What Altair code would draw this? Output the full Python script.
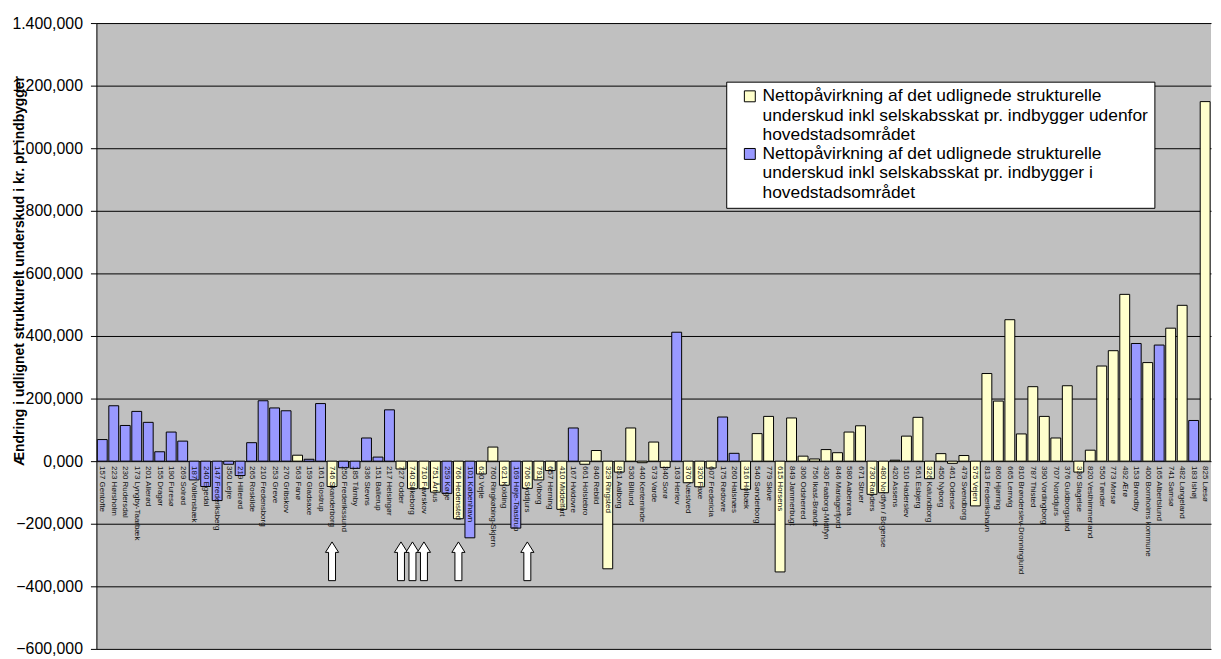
import altair as alt
import pandas as pd

FONT = "Liberation Sans, Arial, sans-serif"

# kommune, nettopåvirkning i kr. pr. indbygger, område (H = hovedstadsområdet, U = udenfor)
kommuner = [
    "157 Gentofte", "223 Hørsholm", "230 Rudersdal", "173 Lyngby-Taarbæk", "201 Allerød",
    "155 Dragør", "190 Furesø", "269 Solrød", "187 Vallensbæk", "240 Egedal",
    "147 Frederiksberg", "350 Lejre", "219 Hillerød", "265 Roskilde", "210 Fredensborg",
    "253 Greve", "270 Gribskov", "563 Fanø", "159 Gladsaxe", "161 Glostrup",
    "746 Skanderborg", "250 Frederikssund", "185 Tårnby", "336 Stevns", "151 Ballerup",
    "217 Helsingør", "727 Odder", "740 Silkeborg", "710 Favrskov", "751 Århus",
    "259 Køge", "766 Hedensted", "101 København", "630 Vejle", "760 Ringkøbing-Skjern",
    "621 Kolding", "169 Høje-Taastrup", "706 Syddjurs", "791 Viborg", "657 Herning",
    "410 Middelfart", "167 Hvidovre", "661 Holstebro", "840 Rebild", "329 Ringsted",
    "851 Aalborg", "530 Billund", "440 Kerteminde", "573 Varde", "340 Sorø",
    "163 Herlev", "370 Næstved", "320 Faxe", "607 Fredericia", "175 Rødovre",
    "260 Halsnæs", "316 Holbæk", "540 Sønderborg", "779 Skive", "615 Horsens",
    "849 Jammerbugt", "306 Odsherred", "756 Ikast-Brande", "430 Faaborg-Midtfyn", "846 Mariagerfjord",
    "580 Aabenraa", "671 Struer", "730 Randers", "480 Nordfyn / Bogense", "420 Assens",
    "510 Haderslev", "561 Esbjerg", "326 Kalundborg", "450 Nyborg", "461 Odense",
    "479 Svendborg", "575 Vejen", "813 Frederikshavn", "860 Hjørring", "665 Lemvig",
    "810 Brønderslev-Dronninglund", "787 Thisted", "390 Vordingborg", "707 Norddjurs", "376 Guldborgsund",
    "330 Slagelse", "820 Vesthimmerland", "550 Tønder", "773 Morsø", "492 Ærø",
    "153 Brøndby", "400 Bornholms kommune", "165 Albertslund", "741 Samsø", "482 Langeland",
    "183 Ishøj", "825 Læsø",
]

vaerdier = [
    69, 177, 114, 159, 124,
    30, 93, 64, -60, -81,
    -126, -10, -46, 59, 193,
    170, 161, 19, 6, 184,
    -81, -21, -23, 74, 13,
    164, -25, -88, -88, -99,
    -103, -184, -245, -41, 45,
    -77, -214, -87, -60, -30,
    -154, 106, -10, 34, -344,
    -35, 106, -5, 61, -20,
    412, -69, -82, -22, 141,
    25, -90, 88, 143, -354,
    138, 16, 7, 37, 27,
    93, 113, -106, -101, 3,
    80, 140, -56, 24, -7,
    18, -143, 280, 192, 452,
    87, 238, 143, 74, 241,
    -35, 35, 304, 353, 533,
    376, 315, 371, 425, 498,
    130, 1149,
]

omraade = [
    "H", "H", "H", "H", "H",
    "H", "H", "H", "H", "H",
    "H", "H", "H", "H", "H",
    "H", "H", "U", "H", "H",
    "U", "H", "H", "H", "H",
    "H", "U", "U", "U", "U",
    "H", "U", "H", "U", "U",
    "U", "H", "U", "U", "U",
    "U", "H", "U", "U", "U",
    "U", "U", "U", "U", "U",
    "H", "U", "U", "U", "H",
    "H", "U", "U", "U", "U",
    "U", "U", "U", "U", "U",
    "U", "U", "U", "U", "U",
    "U", "U", "U", "U", "U",
    "U", "U", "U", "U", "U",
    "U", "U", "U", "U", "U",
    "U", "U", "U", "U", "U",
    "H", "U", "H", "U", "U",
    "H", "U",
]

# kommuner markeret med pil under søjlen
pile = ["746 Skanderborg", "727 Odder", "740 Silkeborg", "710 Favrskov", "766 Hedensted", "706 Syddjurs"]

udenfor = ("Nettopåvirkning af det udlignede strukturelle|"
           "underskud inkl selskabsskat pr. indbygger udenfor|hovedstadsområdet")
inden = ("Nettopåvirkning af det udlignede strukturelle|"
         "underskud inkl selskabsskat pr. indbygger i|hovedstadsområdet")

df = pd.DataFrame({
    "kommune": kommuner,
    "vaerdi": vaerdier,
    "omraade": [udenfor if o == "U" else inden for o in omraade],
})
pil_df = pd.DataFrame({"kommune": pile})

# dansk talformat: 1.400,000
dk_format = ("replace(replace(replace(format(datum.value, ',.3f'), ',', '#'), '.', ','), '#', '.')")

PIL = "M -0.18 1 L -0.18 -0.46 L -0.34 -0.46 L 0 -1 L 0.34 -0.46 L 0.18 -0.46 L 0.18 1 Z"

x_enc = alt.X("kommune:N", sort=kommuner, axis=None,
              scale=alt.Scale(paddingInner=0.14, paddingOuter=0.08))

bars = alt.Chart(df).mark_bar(stroke="black", strokeWidth=1).encode(
    x=x_enc,
    y=alt.Y("vaerdi:Q",
            scale=alt.Scale(domain=[-600, 1400], nice=False),
            axis=alt.Axis(
                values=list(range(-600, 1401, 200)),
                labelExpr=dk_format,
                labelFont=FONT, labelFontSize=16, labelColor="black", labelPadding=8,
                title="Ændring i udlignet strukturelt underskud i kr. pr. indbygger",
                titleFont=FONT, titleFontSize=14, titleFontWeight="bold", titleColor="black",
                titleAngle=-90, titleX=-77, titleY=249, titleBaseline="middle", titleAlign="center",
                grid=True, gridColor="black", gridOpacity=1, gridWidth=1,
                domainColor="black", tickColor="black", tickSize=6,
            )),
    color=alt.Color("omraade:N",
                    scale=alt.Scale(domain=[udenfor, inden], range=["#FFFFCC", "#9999FF"]),
                    legend=alt.Legend(
                        title=None, orient="none", legendX=634, legendY=59, direction="vertical",
                        fillColor="white", strokeColor="black", padding=6, symbolOffset=9,
                        symbolType="square", symbolSize=121, symbolStrokeColor="black",
                        symbolStrokeWidth=1, labelFont=FONT, labelFontSize=17.5, labelColor="black",
                        labelLimit=700, labelBaseline="middle", labelOffset=4,
                        rowPadding=0, labelExpr="split(datum.label, '|')",
                    )),
)

navne = alt.Chart(df).mark_text(
    angle=90, align="left", baseline="middle", fontSize=8, font=FONT, dx=5, color="#111111"
).encode(
    x=alt.X("kommune:N", sort=kommuner),
    y=alt.datum(0),
    text="kommune:N",
)

pile_chart = alt.Chart(pil_df).mark_point(
    shape=PIL, filled=True, fill="white", stroke="black", strokeWidth=1, size=1520, opacity=1
).encode(
    x=alt.X("kommune:N", sort=kommuner),
    y=alt.datum(-320),
)

chart = alt.layer(bars, navne, pile_chart).properties(
    width=1122, height=630,
    autosize=alt.AutoSizeParams(type="none"),
    padding={"left": 89, "top": 13, "right": 2, "bottom": 7},
).configure_view(fill="#C0C0C0", stroke=None)

chart.save("out.html", embed_options={"renderer": "svg", "actions": False})
